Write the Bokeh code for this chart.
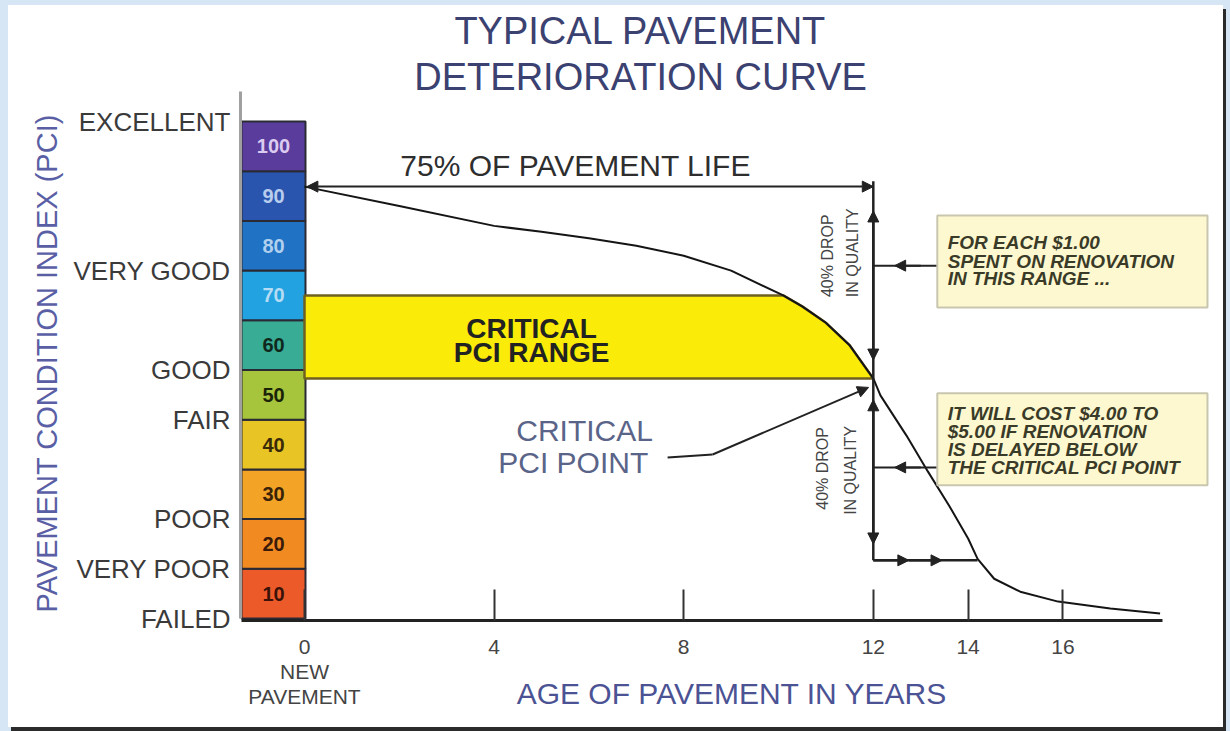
import numpy as np
from bokeh.plotting import figure
from bokeh.models import Arrow, NormalHead, FixedTicker, Range1d, LinearAxis, Title
from bokeh.core.properties import value
from bokeh.embed import file_html
from bokeh.resources import INLINE

# ---------------- data ----------------
title_lines = ["TYPICAL PAVEMENT", "DETERIORATION CURVE"]
band_tops = [10, 20, 30, 40, 50, 60, 70, 80, 90, 100]
band_labels = ["10", "20", "30", "40", "50", "60", "70", "80", "90", "100"]
band_colors = ["#ec5a2a", "#f28a22", "#f3a426", "#e8c424", "#a6c43c",
               "#38ac94", "#22a2e0", "#1f72c4", "#2a55ae", "#5a3c9c"]
band_label_colors = ["#3a1208", "#3a1a08", "#3a2208", "#3a2a08", "#1a2208",
                     "#10281c", "#b4dcf4", "#b0d0ee", "#b8cdee", "#dccbf0"]
condition_ticks = [0, 10, 20, 40, 50, 70, 100]
condition_labels = ["FAILED", "VERY POOR", "POOR", "FAIR", "GOOD", "VERY GOOD", "EXCELLENT"]
year_ticks = [0, 4, 8, 12, 14, 16]
year_labels = ["0\nNEW\nPAVEMENT", "4", "8", "12", "14", "16"]
curve_years = [0.0, 2.0, 4.0, 5.0, 6.0, 7.0, 8.0, 9.0, 10.1, 10.5, 11.0, 11.5, 12.0,
               12.15, 12.7, 13.15, 13.6, 14.0, 14.2, 14.55, 15.1, 15.9, 17.0, 18.05]
curve_pci = [86.9, 83.0, 79.0, 77.8, 76.5, 75.0, 73.0, 70.0, 65.0, 62.8, 59.5, 55.0, 48.3,
             44.9, 36.8, 29.6, 22.7, 16.1, 12.0, 8.0, 5.4, 3.4, 2.0, 1.0]
critical_year = 12
critical_range = [48.3, 65.0]
life_pci = 86.9
drop_line_pci = [88.0, 11.7]
box1_lines = ["FOR EACH $1.00", "SPENT ON RENOVATION", "IN THIS RANGE ..."]
box2_lines = ["IT WILL COST $4.00 TO", "$5.00 IF RENOVATION", "IS DELAYED BELOW",
              "THE CRITICAL PCI POINT"]

FONT = "Liberation Sans"

p = figure(width=1215, height=722, output_backend="svg", toolbar_location=None,
           x_range=Range1d(-1.3502, 19.388), y_range=Range1d(-0.4, 123.34),
           min_border_left=232, min_border_right=0, min_border_top=0, min_border_bottom=107,
           x_axis_location=None, y_axis_location=None)
p.outline_line_color = None
p.background_fill_color = "white"
p.border_fill_color = "white"
p.styles = {"margin-left": "8px", "margin-top": "5px",
            "box-shadow": "3px 4px 0 0 #2b2b2b, 0 0 0 8px #d6e6f4"}
for g in p.grid:
    g.visible = False

# axes
yax = LinearAxis(ticker=FixedTicker(ticks=condition_ticks), bounds=(0, 106),
                 major_label_overrides={t: l for t, l in zip(condition_ticks, condition_labels)})
yax.major_tick_line_color = None
yax.minor_tick_line_color = None
yax.major_tick_in = 0
yax.major_tick_out = 0
yax.major_label_standoff = 10
yax.axis_line_color = "#a0a0a0"
yax.axis_line_width = 3
yax.major_label_text_font = FONT
yax.major_label_text_font_size = "26px"
yax.major_label_text_color = "#3a3a3a"
p.add_layout(yax, "left")

ytitle = Title(text="PAVEMENT CONDITION INDEX (PCI)", align="left", offset=8,
               text_font=FONT, text_font_size="29px", text_font_style="normal",
               text_color="#5a5fa5", standoff=16)
p.add_layout(ytitle, "left")

xax = LinearAxis(ticker=FixedTicker(ticks=year_ticks), bounds=(-1.33, 18.1),
                 major_label_overrides={t: l for t, l in zip(year_ticks, year_labels)})
xax.major_tick_in = 31
xax.major_tick_out = 0
xax.major_tick_line_color = "#333333"
xax.major_tick_line_width = 2
xax.minor_tick_line_color = None
xax.axis_line_color = "#222222"
xax.axis_line_width = 3
xax.major_label_standoff = 14
xax.major_label_text_font = FONT
xax.major_label_text_font_size = "21px"
xax.major_label_text_color = "#444444"
xax.major_label_text_line_height = 1.1
xax.axis_label = "AGE OF PAVEMENT IN YEARS"
xax.axis_label_text_font = FONT
xax.axis_label_text_font_size = "30px"
xax.axis_label_text_font_style = "normal"
xax.axis_label_text_color = "#4b5394"
xax.axis_label_standoff = -34
p.add_layout(xax, "below")

# colour scale bar
bottoms = [t - 10 for t in band_tops]
mids = [t - 5 for t in band_tops]
p.quad(left=-1.329, right=0.021, bottom=bottoms, top=band_tops, fill_color=band_colors,
       line_color="#2a2a35", line_width=2)
p.text(x=[-0.654] * len(mids), y=mids, text=band_labels, text_color=band_label_colors,
       text_font=value(FONT), text_font_style="bold", text_font_size="20px",
       text_align="center", text_baseline="middle")

# critical range (yellow)
seg = [(x, y) for x, y in zip(curve_years, curve_pci)
       if critical_range[0] <= y <= critical_range[1] and x <= critical_year]
px = [0.0] + [s[0] for s in seg] + [0.0]
py = [critical_range[1]] + [s[1] for s in seg] + [critical_range[0]]
p.patch(px, py, fill_color="#fbeb08", line_color="#6f6020", line_width=2.5)

# deterioration curve
p.line(curve_years, curve_pci, line_color="#151515", line_width=2)

head = lambda: NormalHead(size=11, fill_color="#222222", line_color="#222222")

# 75% of life arrow
p.add_layout(Arrow(start=head(), end=head(), x_start=0.05, y_start=life_pci,
                   x_end=critical_year, y_end=life_pci, line_width=2, line_color="#222222"))

# vertical drop line and bottom horizontal
p.line([critical_year, critical_year], drop_line_pci, line_color="#222222", line_width=2.5)
p.line([critical_year, 14.2], [drop_line_pci[1]] * 2, line_color="#222222", line_width=2.5)
p.add_layout(Arrow(start=head(), end=head(), x_start=12, y_start=52, x_end=12, y_end=82,
                   line_width=2.5, line_color="#222222"))
p.add_layout(Arrow(start=head(), end=head(), x_start=12, y_start=44, x_end=12, y_end=15,
                   line_width=2.5, line_color="#222222"))
p.add_layout(Arrow(end=head(), x_start=12, y_start=11.7, x_end=12.75, y_end=11.7,
                   line_width=2.5, line_color="#222222"))
p.add_layout(Arrow(end=head(), x_start=12.75, y_start=11.7, x_end=13.45, y_end=11.7,
                   line_width=2.5, line_color="#222222"))

# pointers from boxes
for yy in (71.0, 30.4):
    p.line([12, 13.35], [yy, yy], line_color="#222222", line_width=2)
    p.add_layout(Arrow(end=head(), x_start=13.0, y_start=yy, x_end=12.45, y_end=yy,
                       line_width=2, line_color="#222222"))

# boxes
p.quad(left=[13.35, 13.35], right=[19.05, 19.05], bottom=[62.6, 26.8], top=[81.1, 45.3],
       fill_color="#fdf8cf", line_color="#c9c6b0", line_width=2)
p.text(x=[13.57] * 3, y=[75.65, 71.8, 68.4], text=box1_lines, text_color="#3a3a28",
       text_font=value(FONT), text_font_style="bold italic", text_font_size="19px",
       text_align="left", text_baseline="middle")
p.text(x=[13.57] * 4, y=[41.25, 37.6, 34.0, 30.4], text=box2_lines, text_color="#3a3a28",
       text_font=value(FONT), text_font_style="bold italic", text_font_size="19px",
       text_align="left", text_baseline="middle")

# rotated "40% DROP IN QUALITY"
p.text(x=[11.03, 11.56, 10.93, 11.52], y=[73.0, 73.6, 30.2, 29.8],
       text=["40% DROP", "IN QUALITY", "40% DROP", "IN QUALITY"], angle=np.pi / 2,
       text_color="#444444", text_font=value(FONT), text_font_size="16px",
       text_align="center", text_baseline="middle")

# critical PCI point pointer
p.line([7.66, 8.61], [32.4, 33.0], line_color="#222222", line_width=2)
p.add_layout(Arrow(end=head(), x_start=8.61, y_start=33.0, x_end=11.9, y_end=46.5,
                   line_width=2, line_color="#222222"))

# texts
p.text(x=[7.09, 7.09], y=[118.3, 108.9], text=title_lines, text_color="#3b4170",
       text_font=value(FONT), text_font_size="38px", text_align="center", text_baseline="middle")
p.text(x=[5.72], y=[91.1], text=["75% OF PAVEMENT LIFE"], text_color="#2e2e2e",
       text_font=value(FONT), text_font_size="30px", text_align="center", text_baseline="middle")
p.text(x=[4.79, 4.79], y=[58.35, 53.5], text=["CRITICAL", "PCI RANGE"], text_color="#222222",
       text_font=value(FONT), text_font_style="bold", text_font_size="28px",
       text_align="center", text_baseline="middle")
p.text(x=[5.91, 5.67], y=[37.8, 31.4], text=["CRITICAL", "PCI POINT"], text_color="#5a6488",
       text_font=value(FONT), text_font_size="30px", text_align="center", text_baseline="middle")

open("out.html", "w").write(file_html(p, INLINE))
